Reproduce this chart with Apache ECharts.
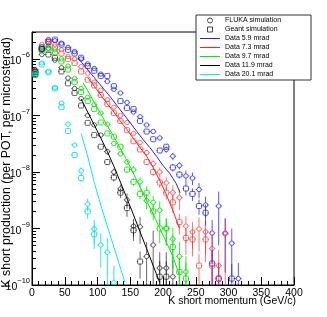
<!DOCTYPE html>
<html><head><meta charset="utf-8">
<script src="https://cdn.jsdelivr.net/npm/echarts@6/dist/echarts.min.js"></script>
<style>html,body{margin:0;padding:0;background:#fff}#c{width:327px;height:317px}</style>
</head><body><div id="c"></div>
<script>
// ---- data ----
const momentumBins = [5,15,25,35,45,55,65,75,85,95,105,115,125,135,145,155,165,175,185,195,205,215,225,235,245,255,265,275,285,295,305,315];
const angleNames = ['Data 5.9 mrad','Data 7.3 mrad','Data 9.7 mrad','Data 11.9 mrad','Data 20.1 mrad'];
const xTitle = 'K short momentum (GeV/c)';
const yTitle = 'K short production (per POT, per microsterad)';

const flukaBlue  = [6.0e-7,1.5e-6,2.2e-6,2.1e-6,1.9e-6,1.6e-6,1.35e-6,1.0e-6,8.2e-7,6.8e-7,5.4e-7,4.0e-7,2.9e-7,2.5e-7,1.7e-7,1.15e-7,9.5e-8,6.8e-8,5.2e-8,4.0e-8,2.5e-8,1.9e-8,1.3e-8,8.5e-9,7.8e-9,4.9e-9,2.6e-9,8.3e-10,2.5e-9,8.3e-10,5.5e-10,1.3e-10];
const geantBlue  = [5.3e-7,1.6e-6,2.0e-6,2.2e-6,1.8e-6,1.45e-6,1.25e-6,1.05e-6,7.5e-7,6.2e-7,5.0e-7,5.0e-7,3.3e-7,1.8e-7,1.35e-7,1.3e-7,8.0e-8,5.2e-8,3.8e-8,2.4e-8,2.8e-8,1.2e-8,9.0e-9,5.1e-9,4.1e-9,2.5e-9,1.9e-9,2.4e-10,1.3e-10,null,1.3e-10,null];
const errBlue    = [0.03,0.03,0.03,0.03,0.03,0.03,0.03,0.03,0.03,0.03,0.03,0.03,0.03,0.03,0.03,0.03,0.05,0.08,0.08,0.1,0.12,0.15,0.15,0.25,0.25,0.3,0.4,0.7,0.8,0.8,0.8,0.9];

const flukaRed   = [6.5e-7,1.8e-6,1.9e-6,1.8e-6,1.45e-6,1.1e-6,1.0e-6,7.3e-7,5.6e-7,3.9e-7,2.8e-7,1.9e-7,1.4e-7,1.0e-7,7.5e-8,4.8e-8,3.3e-8,2.2e-8,1.4e-8,1.0e-8,6.4e-9,4.3e-9,3.5e-9,1.1e-9,8.7e-10,9.8e-10,8.7e-10,4.4e-10,2.2e-10,8.0e-10];
const geantRed   = [5.8e-7,1.5e-6,2.1e-6,1.6e-6,1.25e-6,1.0e-6,8.5e-7,6.0e-7,4.3e-7,3.4e-7,2.3e-7,1.6e-7,1.1e-7,8.0e-8,5.5e-8,3.5e-8,2.5e-8,1.5e-8,1.0e-8,6.5e-9,4.3e-9,2.9e-9,1.3e-9,6.8e-10,6.4e-10,2.2e-10,6.4e-10,2.2e-10,1.3e-10,null];
const errRed     = [0.03,0.03,0.03,0.03,0.03,0.03,0.03,0.03,0.03,0.03,0.03,0.03,0.03,0.03,0.06,0.08,0.1,0.12,0.15,0.2,0.25,0.35,0.4,0.5,0.5,0.6,0.6,0.8,0.9,0.9];

const flukaGreen = [5.8e-7,1.65e-6,1.7e-6,1.45e-6,1.0e-6,7.5e-7,4.5e-7,3.0e-7,2.1e-7,1.55e-7,1.1e-7,7.0e-8,3.2e-8,2.1e-8,1.5e-8,1.1e-8,6.7e-9,3.1e-9,2.9e-9,2.1e-9,1.0e-9,6.5e-10,3.2e-10,1.7e-10];
const geantGreen = [5.2e-7,1.4e-6,1.45e-6,1.3e-6,9.0e-7,6.5e-7,3.9e-7,2.6e-7,1.8e-7,1.3e-7,7.5e-8,4.8e-8,4.2e-8,2.8e-8,1.1e-8,6.7e-9,4.1e-9,4.3e-9,2.0e-9,1.0e-9,1.0e-9,4.7e-10,1.7e-10,1.3e-10];
const errGreen   = [0.03,0.03,0.03,0.03,0.03,0.03,0.03,0.03,0.03,0.03,0.03,0.03,0.08,0.1,0.12,0.15,0.2,0.3,0.3,0.45,0.5,0.6,0.8,0.9];

const flukaBlack = [6.3e-7,1.2e-6,1.55e-6,9.5e-7,7.0e-7,4.6e-7,3.0e-7,2.0e-7,1.0e-7,6.8e-8,4.5e-8,2.3e-8,1.0e-8,5.0e-9,3.2e-9,1.1e-9,1.07e-9,3.2e-10,5.1e-10,2.0e-10,2.0e-10,1.4e-10];
const geantBlack = [5.8e-7,1.5e-6,1.2e-6,1.05e-6,6.0e-7,3.7e-7,2.5e-7,1.5e-7,7.4e-8,4.5e-8,2.8e-8,1.5e-8,8.0e-9,4.3e-9,2.3e-9,9.3e-10,2.6e-10,null,null,1.4e-10,1.4e-10,null];
const errBlack   = [0.03,0.03,0.03,0.03,0.03,0.03,0.03,0.03,0.03,0.03,0.08,0.12,0.15,0.2,0.3,0.35,0.5,0.8,0.8,0.9,0.9,0.9];

const flukaCyan  = [5.2e-7,8.5e-7,6.0e-7,3.1e-7,1.65e-7,7.0e-8,3.0e-8,1.05e-8,2.7e-9,9.8e-10,5.1e-10,3.8e-10,1.1e-10];
const geantCyan  = [5.6e-7,8.0e-7,5.8e-7,3.0e-7,1.4e-7,5.3e-8,2.0e-8,7.8e-9,2.0e-9,7.9e-10,null,null,null];
const errCyan    = [0.03,0.03,0.03,0.03,0.03,0.06,0.1,0.15,0.25,0.45,0.6,0.75,1.0];

// measured data curves
const dataBlueX  = [70,80,90,100,110,120,130,140,150,160,170,180,190,200,210,220,226];
const dataBlueY  = [1.05e-6,7.6e-7,5.5e-7,4.0e-7,2.9e-7,2.1e-7,1.48e-7,1.05e-7,7.4e-8,5.2e-8,3.7e-8,2.7e-8,1.9e-8,1.3e-8,9.5e-9,6.3e-9,4.3e-9];
const dataRedX   = [85,95,105,115,125,135,145,155,165,175,185,195,205,215,225];
const dataRedY   = [4.7e-7,3.3e-7,2.3e-7,1.6e-7,1.15e-7,7.9e-8,5.6e-8,3.9e-8,2.7e-8,1.9e-8,1.2e-8,7.1e-9,4.0e-9,2.1e-9,1.0e-9];
const dataGreenX = [78,85,95,105,115,125,135,145,155,165,175,185,195,205,215,225];
const dataGreenY = [3.8e-7,2.75e-7,1.7e-7,1.07e-7,6.6e-8,4.2e-8,2.6e-8,1.6e-8,9.3e-9,5.4e-9,3.1e-9,1.8e-9,1.0e-9,5.8e-10,3.2e-10,1.5e-10];
const dataBlackX = [75,85,95,105,115,125,135,145,155,165,175,185,195];
const dataBlackY = [1.95e-7,1.15e-7,6.8e-8,4.0e-8,2.3e-8,1.26e-8,6.6e-9,3.4e-9,1.74e-9,8.7e-10,4.4e-10,2.2e-10,1.1e-10];
const dataCyanX  = [75,85,95,105,115,125,135,142];
const dataCyanY  = [4.8e-8,1.9e-8,6.6e-9,2.6e-9,1.1e-9,4.7e-10,2.0e-10,1.1e-10];

const xTicks = [0,50,100,150,200,250,300,350,400];
const yMajorTicks = [1e-10,1e-9,1e-8,1e-7,1e-6];
const yMinorTicks = [2e-10,3e-10,4e-10,5e-10,6e-10,7e-10,8e-10,9e-10,
  2e-9,3e-9,4e-9,5e-9,6e-9,7e-9,8e-9,9e-9,
  2e-8,3e-8,4e-8,5e-8,6e-8,7e-8,8e-8,9e-8,
  2e-7,3e-7,4e-7,5e-7,6e-7,7e-7,8e-7,9e-7,
  2e-6,3e-6];

// ---- styling ----
const markColors = ['rgba(30,30,255,0.75)','rgba(255,40,40,0.65)','rgba(0,225,0,0.8)','rgba(0,0,0,0.6)','rgba(0,225,225,0.85)'];
const lineColors = ['#2020ff','#ff2020','#00ee00','#000000','#00f0f0'];
const FONT = 'Liberation Sans, Arial, sans-serif';
const LINE_ICON = 'path://M0,0H20V1H0Z';

const flukaSets = [flukaBlue, flukaRed, flukaGreen, flukaBlack, flukaCyan];
const geantSets = [geantBlue, geantRed, geantGreen, geantBlack, geantCyan];
const errSets = [errBlue, errRed, errGreen, errBlack, errCyan];
const dataSets = [[dataBlueX,dataBlueY],[dataRedX,dataRedY],[dataGreenX,dataGreenY],[dataBlackX,dataBlackY],[dataCyanX,dataCyanY]];

function buildPoints(sets){
  const out = [];
  sets.forEach((arr, ci) => {
    arr.forEach((v, i) => {
      if (v != null) out.push([momentumBins[i], v, errSets[ci][i], ci]);
    });
  });
  return out;
}

function makeRender(kind){
  return function(params, api){
    const x = api.value(0), y = api.value(1), e = api.value(2), ci = api.value(3);
    const c = api.coord([x, y]);
    const up = api.coord([x, y * (1 + e)]);
    const lo = api.coord([x, Math.max(y * (1 - e), 1e-13)]);
    const l = api.coord([x - 5, y]), r = api.coord([x + 5, y]);
    const col = markColors[ci];
    const rad = 2.2;
    const ls = {stroke: col, lineWidth: 1, fill: null};
    const ch = [];
    if (c[1] - rad > up[1]) ch.push({type:'line', shape:{x1:c[0], y1:c[1]-rad, x2:c[0], y2:up[1]}, style:ls});
    if (lo[1] > c[1] + rad) ch.push({type:'line', shape:{x1:c[0], y1:c[1]+rad, x2:c[0], y2:lo[1]}, style:ls});
    ch.push({type:'line', shape:{x1:l[0], y1:c[1], x2:c[0]-rad, y2:c[1]}, style:ls});
    ch.push({type:'line', shape:{x1:c[0]+rad, y1:c[1], x2:r[0], y2:c[1]}, style:ls});
    if (kind === 'circle') {
      ch.push({type:'circle', shape:{cx:c[0], cy:c[1], r:rad}, style:{fill:'rgba(0,0,0,0)', stroke:col, lineWidth:1}});
    } else {
      ch.push({type:'rect', shape:{x:c[0]-rad-0.3, y:c[1]-rad-0.3, width:2*rad+0.6, height:2*rad+0.6, r:1}, style:{fill:'rgba(0,0,0,0)', stroke:col, lineWidth:1}});
    }
    return {type:'group', children: ch};
  };
}

const series = [
  {name:'FLUKA simulation', type:'custom', renderItem: makeRender('circle'), data: buildPoints(flukaSets), clip:true, z:2, silent:true},
  {name:'Geant simulation', type:'custom', renderItem: makeRender('square'), data: buildPoints(geantSets), clip:true, z:2, silent:true}
];
dataSets.forEach((d, ci) => {
  series.push({
    name: angleNames[ci], type:'line', symbol:'none', clip:true, z:3, silent:true,
    lineStyle:{color: lineColors[ci], width:1}, itemStyle:{color: lineColors[ci]},
    data: d[0].map((x, i) => [x, d[1][i]])
  });
});

const chart = echarts.init(document.getElementById('c'), null, {renderer:'canvas'});
chart.setOption({
  animation:false,
  backgroundColor:'#fff',
  grid:{left:32, right:33, top:32, bottom:32, show:true, borderColor:'#000', borderWidth:1, outerBoundsMode:'none', containLabel:false},
  xAxis:{
    type:'value', min:0, max:400, interval:50,
    axisLine:{show:true, lineStyle:{color:'#000', width:1}},
    axisTick:{show:true, inside:true, length:8, lineStyle:{color:'#000'}, customValues: xTicks},
    minorTick:{show:true, splitNumber:5, length:4, lineStyle:{color:'#000'}},
    splitLine:{show:false},
    axisLabel:{fontFamily:FONT, fontSize:10.5, color:'#000', margin:3, customValues: xTicks}
  },
  yAxis:[{
    type:'log', logBase:10, min:1e-10, max:3e-6,
    axisLine:{show:true, lineStyle:{color:'#000', width:1}},
    axisTick:{show:true, inside:true, length:8, lineStyle:{color:'#000'}, customValues: yMajorTicks},
    splitLine:{show:false},
    axisLabel:{
      customValues: yMajorTicks, margin:2, color:'#000',
      formatter: v => { const e = Math.round(Math.log10(v)); return '{b|10}{s|' + (e < 0 ? '\u2212' : '') + Math.abs(e) + '}'; },
      rich:{
        b:{fontFamily:FONT, fontSize:10.5, color:'#000', lineHeight:16, verticalAlign:'bottom'},
        s:{fontFamily:FONT, fontSize:7.5, color:'#000', lineHeight:16, verticalAlign:'top'}
      }
    }
  },{
    type:'log', logBase:10, min:1e-10, max:3e-6, position:'left',
    axisLine:{show:false},
    axisTick:{show:true, inside:true, length:4, lineStyle:{color:'#000'}, customValues: yMinorTicks},
    axisLabel:{show:false}, splitLine:{show:false}
  }],
  legend:{
    orient:'vertical', left:196, top:15, z:10, selectedMode:false,
    itemWidth:20, itemHeight:5, itemGap:2, padding:[2,6,2,4],
    backgroundColor:'#fff', borderColor:'#333', borderWidth:1,
    textStyle:{fontFamily:FONT, fontSize:7, color:'#000', width:80, lineHeight:7},
    data:[
      {name:'FLUKA simulation', icon:'circle', itemStyle:{color:'rgba(0,0,0,0)', borderColor:'#444', borderWidth:1}},
      {name:'Geant simulation', icon:'path://M0,0H10V10H0Z', itemStyle:{color:'rgba(0,0,0,0)', borderColor:'#444', borderWidth:1}},
      ...angleNames.map((n, i) => ({name:n, icon:LINE_ICON, itemStyle:{color:lineColors[i], borderWidth:0}}))
    ]
  },
  graphic:[{
    type:'text', x:6.5, y:37, rotation:Math.PI/2, z:10,
    style:{text:yTitle, font:'12.4px ' + FONT, fill:'#000', align:'right', verticalAlign:'middle'}
  },{
    type:'text', x:296, y:301, z:10,
    style:{text:xTitle, font:'10.5px ' + FONT, fill:'#000', align:'right', verticalAlign:'middle'}
  }],
  series: series
});
</script>
</body></html>
